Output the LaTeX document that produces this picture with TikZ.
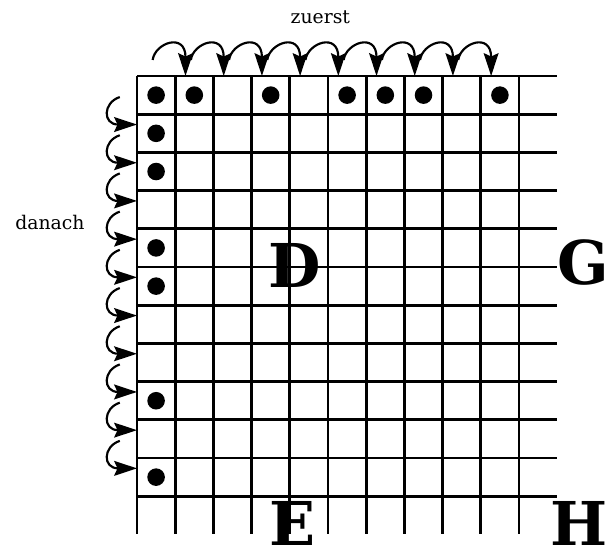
\documentclass[tikz,border=0pt]{standalone}
\usepackage{fontspec}
\setmainfont{DejaVu Serif}
\usetikzlibrary{calc,arrows.meta}

\begin{document}
\begin{tikzpicture}[gridline/.style={line width=2.1pt},
  hop/.style={line width=1.6pt,-{Stealth[length=17pt,width=11pt,inset=2.5pt]}},
  stone/.style={fill=black},
  bigletter/.style={font=\bfseries\fontsize{45}{45}\selectfont,inner sep=0pt},
  word/.style={font=\fontsize{14}{14}\selectfont,inner sep=0pt}]
\useasboundingbox (-3.586,-12.57) rectangle (12.46,1.99);
% board
\foreach\x in {0,...,10}
  \draw [gridline] (\x,0) -- (\x,-12);
\foreach\y in {0,...,11}
  \draw [gridline] (0,-\y) -- (11,-\y);
\foreach\c in {1,2,4,6,7,8,10}
  \fill [stone] (\c-0.5,-0.5) circle (0.23);
\foreach\r in {2,3,5,6,9,11}
  \fill [stone] (0.5,-\r+0.5) circle (0.23);
% hops along the top, then down the side
\foreach\k in {1,...,9}{
  \coordinate (top\k) at (\k+0.27,0);
  \draw [hop] ($(top\k)+(-0.86,0.42)$) .. controls +(0.06,0.45) and +(0,1.15) .. (top\k);
}
\foreach\k in {1,...,10}{
  \coordinate (left\k) at (0,-\k-0.27);
  \draw [hop] ($(left\k)+(-0.45,0.72)$) .. controls +(-0.45,-0.15) and +(-0.9,0) .. (left\k);
}
\node [word,anchor=base] (zuerst) at (4.80,1.38) {zuerst};
\node [word,anchor=base] (danach) at (-2.28,-4.03) {danach};
\node [bigletter] (D) at (4.14,-4.95) {D};
\node [bigletter] (G) at (11.68,-4.87) {G};
\node [bigletter] (E) at (4.06,-11.72) {E};
\node [bigletter] (H) at (11.57,-11.70) {H};
\end{tikzpicture}
\end{document}
